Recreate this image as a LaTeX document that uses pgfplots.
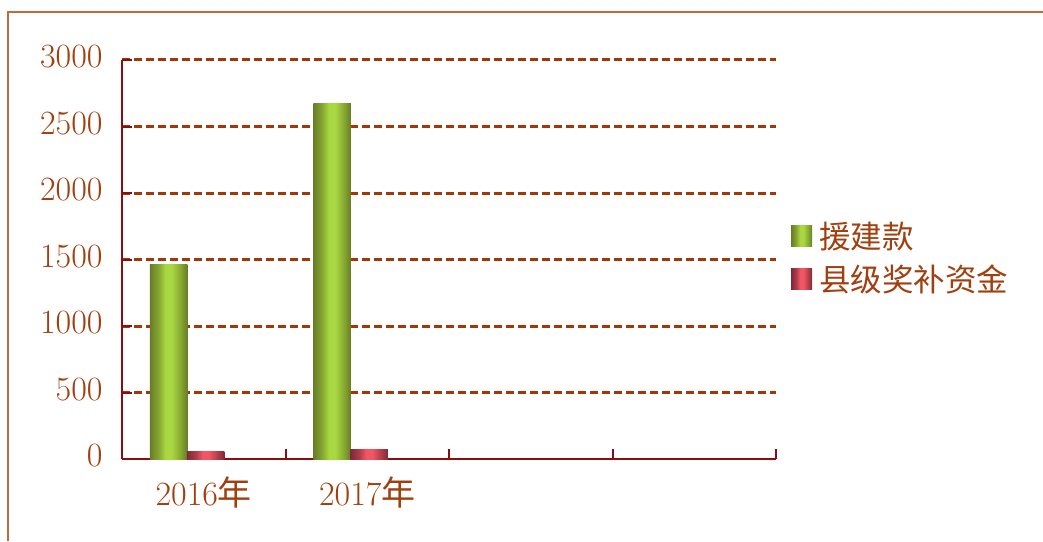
\documentclass[border=0pt]{standalone}
\usepackage{pgfplots}
\pgfplotsset{compat=1.18}
\usepackage{fontspec}
\newfontfamily\cjk{Noto Sans CJK SC}
\definecolor{textc}{HTML}{A04010}
\definecolor{gridc}{HTML}{A0380A}
\definecolor{axisc}{HTML}{8C0C10}
\definecolor{framec}{HTML}{C06A40}
\definecolor{gdark}{HTML}{687C28}
\definecolor{gmid}{HTML}{86A832}
\definecolor{glight}{HTML}{AAD842}
\definecolor{rdark}{HTML}{7C2A3A}
\definecolor{rmid}{HTML}{B03C4A}
\definecolor{rlight}{HTML}{F25664}
\pgfdeclarehorizontalshading{greenbar}{100bp}{color(0bp)=(gdark); color(25bp)=(gdark); color(37bp)=(gmid); color(46bp)=(glight); color(54bp)=(glight); color(66bp)=(gmid); color(75bp)=(gdark); color(100bp)=(gdark)}
\pgfdeclarehorizontalshading{redbar}{100bp}{color(0bp)=(rdark); color(25bp)=(rdark); color(37bp)=(rmid); color(46bp)=(rlight); color(54bp)=(rlight); color(66bp)=(rmid); color(75bp)=(rdark); color(100bp)=(rdark)}
\begin{document}
\begin{tikzpicture}[x=1pt,y=1pt]
\useasboundingbox (0,0) rectangle (1043,541);
\draw[framec, line width=1.5pt] (8,0) -- (8,529) -- (1043,529);
\begin{axis}[
  at={(122pt,82pt)}, anchor=south west,
  scale only axis, width=654pt, height=399pt,
  xmin=-0.5, xmax=3.5, ymin=0, ymax=3000,
  axis x line*=bottom, axis y line*=left,
  axis line style={axisc, line width=2pt},
  tick style={axisc, line width=2pt},
  major tick length=10pt, tick align=inside,
  xtick={0.5,1.5,2.5,3.5}, xticklabels={},
  extra x ticks={0,1},
  extra x tick labels={2016{\cjk 年},2017{\cjk 年}},
  extra x tick style={tick style={draw=none}},
  ytick={500,1000,...,3000},
  extra y ticks={0},
  extra y tick style={grid=none},
  ymajorgrids,
  major grid style={gridc, line width=3pt, dash pattern=on 8pt off 4pt},
  /pgf/number format/assume math mode=true,
  /pgf/number format/1000 sep={},
  every tick label/.append style={font=\fontsize{34}{40}\selectfont, text=textc},
  yticklabel style={xshift=-16pt, yshift=3pt},
  xticklabel style={yshift=-14pt},
  legend style={at={(1.023,0.505)}, anchor=west, draw=none, fill=none, inner sep=0pt,
    row sep=15pt, font=\cjk\fontsize{31.5}{36}\selectfont, text=textc,
    nodes={inner xsep=7pt, inner ysep=0pt}},
  legend cell align=left,
]
\addplot[ybar, bar width=0.229, bar shift=-0.215, draw=none, shade, shading=greenbar,
  legend image code/.code={\shade[shading=greenbar] (0pt,-10.5pt) rectangle (21pt,10.5pt);}]
  coordinates {(0,1460)};
\addplot[ybar, bar width=0.229, bar shift=0.012, draw=none, shade, shading=redbar,
  legend image code/.code={\shade[shading=redbar] (0pt,-10.5pt) rectangle (21pt,10.5pt);}]
  coordinates {(0,60)};
\addplot[ybar, bar width=0.229, bar shift=-0.215, draw=none, shade, shading=greenbar, forget plot]
  coordinates {(1,2670)};
\addplot[ybar, bar width=0.229, bar shift=0.012, draw=none, shade, shading=redbar, forget plot]
  coordinates {(1,72)};
\legend{援建款,县级奖补资金}
\end{axis}
\end{tikzpicture}
\end{document}
